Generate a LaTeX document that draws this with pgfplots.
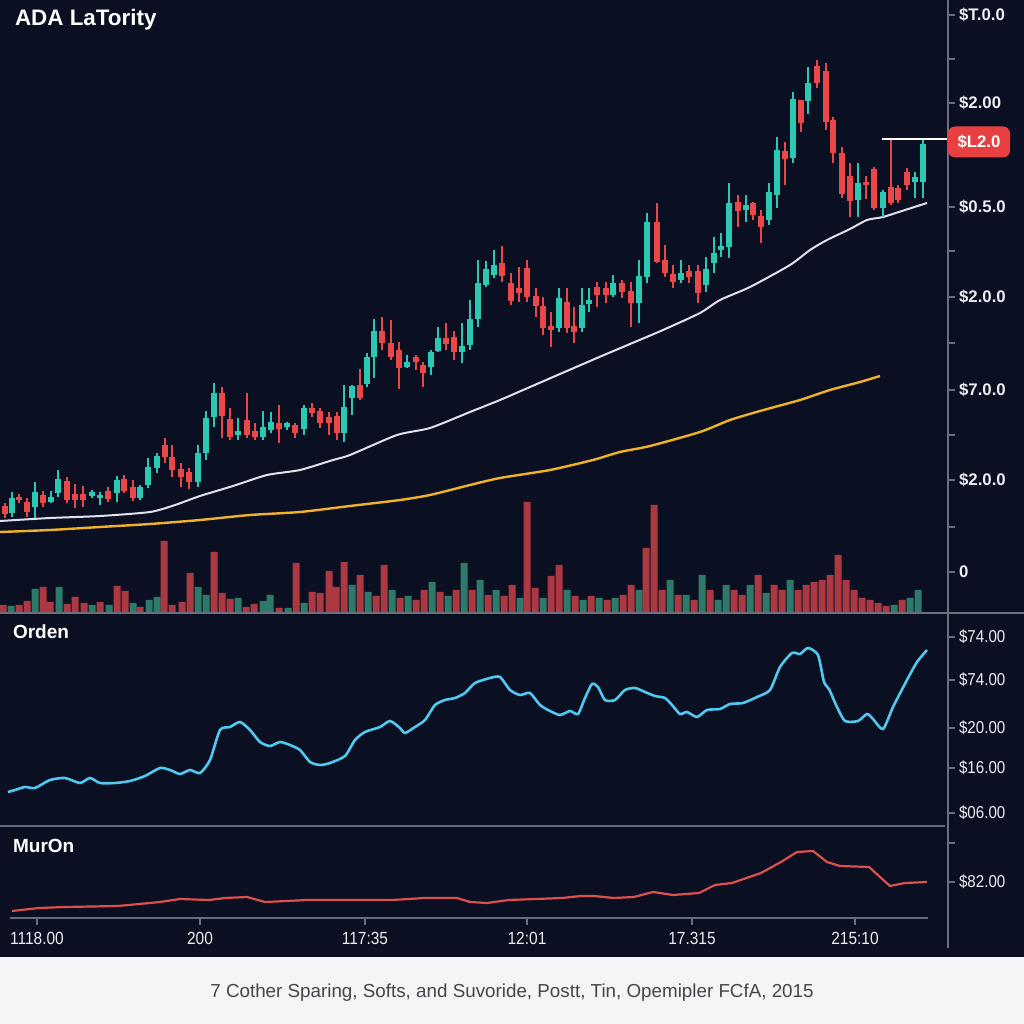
\documentclass[border=0pt]{standalone}
\usepackage{fontspec}
\setmainfont{Liberation Sans}
\newfontfamily\condfont[FakeStretch=0.88]{Liberation Sans}
\usepackage{pgfplots}
\usepackage{pgfplotstable}
\pgfplotsset{compat=1.18}

\definecolor{bgc}{RGB}{10,16,33}
\definecolor{stripc}{RGB}{244,245,247}
\definecolor{capc}{RGB}{66,70,76}
\definecolor{upc}{RGB}{44,201,178}
\definecolor{dnc}{RGB}{234,72,72}
\definecolor{volup}{RGB}{45,122,106}
\definecolor{voldn}{RGB}{172,56,66}
\definecolor{maw}{RGB}{225,225,236}
\definecolor{may}{RGB}{240,178,40}
\definecolor{cyanc}{RGB}{80,200,240}
\definecolor{redl}{RGB}{222,80,80}
\definecolor{axc}{RGB}{105,110,125}
\definecolor{labc}{RGB}{236,238,242}
\definecolor{boxc}{RGB}{232,64,64}

% candles: x, open, high, low, close (screen rows of the price panel)
\pgfplotstableread{
x o h l c
5 506 503 518 514
12 513 492 517 498
19 497 494 503 500
27 502 498 517 512
35 507 482 518 492
43 495 491 507 503
51 502 491 503 497
58 493 470 497 479
67 481 477 503 500
75 494 484 508 500
83 494 486 507 500
92 496 490 498 492
100 498 492 505 495
108 491 487 502 499
117 493 476 502 480
124 479 475 493 491
133 487 480 501 498
140 498 485 500 487
148 485 458 488 467
157 468 453 473 456
165 445 438 463 457
172 457 445 477 470
181 469 463 487 477
189 472 468 489 482
198 482 445 487 453
206 453 411 460 418
214 417 383 427 393
222 393 387 438 416
230 419 408 440 437
238 435 418 440 431
247 420 393 438 435
255 431 423 440 437
263 437 411 440 427
271 430 412 433 422
279 423 405 443 429
287 427 422 430 423
295 425 423 438 433
304 429 405 435 408
312 408 403 417 413
320 411 408 428 423
329 417 412 435 423
337 416 412 440 433
344 433 385 442 407
352 398 385 415 386
360 385 369 400 398
367 384 353 387 357
374 357 319 378 331
382 331 317 350 343
391 343 320 360 357
399 350 342 389 368
407 367 355 368 362
416 357 355 370 362
423 365 362 387 373
431 367 350 375 352
438 351 327 352 338
446 338 323 350 344
454 337 331 360 352
462 352 323 363 346
470 345 300 350 319
478 319 260 327 283
486 285 261 287 269
494 275 250 278 265
502 263 246 282 276
511 283 273 305 301
519 288 267 302 293
527 268 260 302 297
536 296 288 317 306
543 306 297 335 328
551 326 312 347 330
559 328 288 332 298
567 302 288 333 328
574 326 307 343 332
582 328 288 332 305
589 304 288 312 300
597 287 282 307 295
606 288 282 303 295
613 295 275 297 283
622 283 280 298 292
631 291 282 327 303
639 303 260 323 276
647 277 213 283 222
657 222 203 263 262
665 260 245 277 273
673 274 265 288 282
681 280 260 283 273
689 271 265 283 277
698 271 265 303 293
706 285 257 292 269
714 263 237 273 253
721 250 233 257 246
729 247 183 258 203
738 202 195 227 211
746 210 195 222 205
753 203 202 220 215
761 216 210 243 227
769 220 183 225 192
777 195 137 208 150
785 151 142 185 159
793 158 92 163 99
801 100 100 132 123
808 101 67 114 83
817 66 60 88 83
826 71 63 130 122
833 120 117 163 153
842 153 147 198 194
850 176 163 217 201
858 200 163 217 183
866 182 176 199 185
874 169 167 210 208
883 208 190 217 192
891 187 140 205 203
898 188 185 203 200
907 172 168 190 185
915 182 172 198 177
923 182 140 198 144
}\candles

% volume: x, height, up(1)/down(0)
\pgfplotstableread{
x h up
3 7 0
11 6 1
19 7 0
27 11 0
35 23 1
43 25 0
50 10 0
59 25 1
67 8 0
75 15 0
84 9 0
92 7 1
100 10 0
109 7 1
117 26 0
125 21 0
133 9 1
140 5 0
149 12 1
157 15 1
164 71 0
172 7 0
182 10 0
190 39 0
198 25 1
206 17 1
214 60 0
222 19 0
230 13 0
238 14 1
246 5 0
254 8 0
263 11 1
270 17 1
279 4 0
288 4 1
296 49 0
304 9 1
312 20 0
320 19 0
329 41 0
336 25 0
344 50 0
352 27 1
360 37 0
368 20 1
376 16 0
384 47 0
392 22 1
400 14 0
408 16 1
416 12 0
424 22 0
432 30 1
440 20 0
448 16 1
456 22 0
464 49 1
472 22 0
480 32 1
488 17 0
496 22 1
504 16 0
512 27 0
520 14 1
527 110 0
535 24 0
543 14 1
551 36 0
559 47 0
567 22 1
575 16 0
583 12 1
591 16 0
599 14 1
607 12 0
615 14 1
623 17 0
631 27 0
639 22 1
646 64 0
654 107 0
662 22 0
670 32 1
678 17 0
686 17 1
694 12 0
702 37 1
710 22 0
718 12 1
726 27 1
734 22 0
742 17 0
750 27 1
758 37 0
766 19 1
774 27 0
782 22 0
790 32 1
798 22 0
806 27 0
814 30 0
822 32 0
830 37 0
838 57 0
846 32 0
854 22 0
862 14 0
870 12 0
878 9 0
886 6 0
894 7 1
902 12 0
910 14 1
918 22 1
}\vol

\begin{document}
\begin{tikzpicture}[x=1pt,y=1pt]
\useasboundingbox (0pt,0pt) rectangle (512pt,512pt);
\fill[bgc] (0pt,33.5pt) rectangle (512pt,512pt);
\fill[stripc] (0pt,0pt) rectangle (512pt,33.5pt);

% volume
\begin{axis}[at={(0pt,206pt)}, anchor=south west, scale only axis,
  width=474pt, height=306pt, xmin=0, xmax=948, ymin=0, ymax=612,
  hide axis, ybar, bar width=7, bar shift=0pt]
\addplot[fill=volup, draw=none, restrict expr to domain={\thisrow{up}}{0.5:1.5}] table[x=x,y=h]{\vol};
\addplot[fill=voldn, draw=none, restrict expr to domain={\thisrow{up}}{-0.5:0.5}] table[x=x,y=h]{\vol};
\end{axis}

% price panel
\begin{axis}[at={(0pt,206pt)}, anchor=south west, scale only axis,
  width=474pt, height=306pt, xmin=0, xmax=948, ymin=0, ymax=612, y dir=reverse,
  axis line style={draw=none}, xtick=\empty,
  ytick pos=right, yticklabel pos=right,
  ytick={15,103,207,297,390,480,572},
  yticklabels={\$T.0.0,\$2.00,\$0.5.0,\$2.0.0,\$7.0.0,\$2.0.0,0},
  minor ytick={59,152,251,343,435,527},
  tick align=outside, major tick length=3.5pt, minor tick length=3.5pt,
  tick style={draw=axc, line width=0.6pt},
  yticklabel style={font=\bfseries\fontsize{8.4}{10}\selectfont, text=labc, anchor=west, xshift=-1.5pt}]
\addplot[maw, line width=1pt, smooth, tension=0.4] coordinates {(0,521)(50,518)(100,516)(150,512)(175,505)(200,496)(233,486)(267,475)(300,470)(333,460)(350,455)(397,435)(430,428)(470,412)(500,400)(530,387)(560,374)(597,358)(630,344)(663,330)(700,313)(720,300)(750,287)(790,265)(810,250)(827,240)(850,229)(867,220)(883,217)(905,210)(927,203)};
\addplot[may, line width=1.2pt, smooth, tension=0.4] coordinates {(0,532)(50,530)(100,527)(150,524)(200,520)(250,515)(300,512)(350,506)(400,500)(430,495)(470,485)(500,478)(550,470)(593,460)(620,452)(650,446)(700,432)(730,420)(760,411)(800,400)(830,390)(860,382)(880,376)};
% wicks
\addplot[draw=none, mark=none, restrict expr to domain={\thisrow{o}-\thisrow{c}}{0.01:1000},
  error bars/.cd, y dir=both, y explicit, error mark=none, error bar style={draw=upc, solid, line width=0.6pt}]
  table[x=x, y expr={(\thisrow{h}+\thisrow{l})/2}, y error expr={(\thisrow{l}-\thisrow{h})/2}]{\candles};
\addplot[draw=none, mark=none, restrict expr to domain={\thisrow{o}-\thisrow{c}}{-1000:-0.01},
  error bars/.cd, y dir=both, y explicit, error mark=none, error bar style={draw=dnc, solid, line width=0.6pt}]
  table[x=x, y expr={(\thisrow{h}+\thisrow{l})/2}, y error expr={(\thisrow{l}-\thisrow{h})/2}]{\candles};
% bodies
\addplot[draw=none, mark=none, restrict expr to domain={\thisrow{o}-\thisrow{c}}{0.01:1000},
  error bars/.cd, y dir=both, y explicit, error mark=none, error bar style={draw=upc, solid, line width=3.3pt}]
  table[x=x, y expr={(\thisrow{o}+\thisrow{c})/2}, y error expr={abs(\thisrow{o}-\thisrow{c})/2}]{\candles};
\addplot[draw=none, mark=none, restrict expr to domain={\thisrow{o}-\thisrow{c}}{-1000:-0.01},
  error bars/.cd, y dir=both, y explicit, error mark=none, error bar style={draw=dnc, solid, line width=3.3pt}]
  table[x=x, y expr={(\thisrow{o}+\thisrow{c})/2}, y error expr={abs(\thisrow{o}-\thisrow{c})/2}]{\candles};
% last price line
\addplot[white, line width=1.2pt] coordinates {(882,139)(948,139)};
\end{axis}

% oscillator panel
\begin{axis}[at={(0pt,99pt)}, anchor=south west, scale only axis,
  width=474pt, height=106.5pt, xmin=0, xmax=948, ymin=613, ymax=826, y dir=reverse,
  axis line style={draw=none}, xtick=\empty,
  ytick pos=right, yticklabel pos=right,
  ytick={637,680,728,768,813},
  yticklabels={\$74.00,\$74.00,\$20.00,\$16.00,\$06.00},
  tick align=outside, major tick length=3.5pt,
  tick style={draw=axc, line width=0.6pt},
  yticklabel style={font=\condfont\fontsize{8.6}{10}\selectfont, text=labc, anchor=west, xshift=-1.5pt}]
\addplot[cyanc, line width=1.3pt, smooth, tension=0.4] coordinates {(8,792)(15,790)(25,787)(35,788)(50,780)(65,778)(80,783)(90,778)(100,783)(115,783)(130,781)(145,776)(160,768)(170,770)(180,774)(190,770)(200,773)(210,760)(220,730)(230,727)(240,722)(250,730)(260,742)(270,746)(280,742)(290,745)(300,750)(310,762)(320,765)(330,763)(345,756)(355,740)(365,732)(380,727)(390,721)(400,728)(405,733)(415,727)(425,720)(435,705)(445,700)(455,698)(465,693)(475,683)(490,678)(500,677)(510,690)(520,695)(530,693)(540,705)(550,711)(560,715)(570,711)(578,714)(585,698)(592,684)(598,687)(605,700)(615,700)(625,690)(635,688)(645,692)(655,696)(665,698)(672,705)(680,714)(687,712)(697,717)(707,710)(720,709)(730,704)(743,703)(757,697)(770,690)(780,667)(792,653)(800,654)(808,648)(818,655)(824,682)(829,689)(837,707)(845,721)(858,721)(867,714)(873,719)(883,729)(893,707)(907,680)(917,662)(927,650)};
\end{axis}

% lower panel
\begin{axis}[at={(0pt,53pt)}, anchor=south west, scale only axis,
  width=474pt, height=46pt, xmin=0, xmax=948, ymin=826, ymax=918, y dir=reverse,
  axis line style={draw=none},
  ytick pos=right, yticklabel pos=right,
  ytick={882}, yticklabels={\$82.00}, minor ytick={843},
  xtick pos=left, xticklabel pos=left,
  xtick={37,200,365,527,692,855},
  xticklabels={1118.00,200,117:35,12:01,17.315,215:10},
  tick align=outside, major tick length=3.5pt, minor tick length=3.5pt,
  tick style={draw=axc, line width=0.6pt},
  yticklabel style={font=\condfont\fontsize{8.6}{10}\selectfont, text=labc, anchor=west, xshift=-1.5pt},
  xticklabel style={font=\condfont\fontsize{8.8}{10}\selectfont, text=labc, anchor=north}]
\addplot[redl, line width=1.1pt] coordinates {(12,911)(39,908)(65,907)(118,906)(160,902)(180,899)(209,900)(225,898)(247,897)(265,902)(287,901)(307,900)(392,900)(425,898)(457,898)(470,902)(487,903)(509,900)(536,899)(562,898)(581,896)(594,896)(614,898)(634,897)(653,892)(673,895)(699,893)(715,885)(732,883)(761,873)(781,862)(797,852)(813,851)(827,862)(840,866)(869,867)(890,886)(905,883)(927,882)};
\draw[axc, line width=0.6pt] (axis cs:10,918) -- (axis cs:928,918);
\end{axis}

\draw[axc, line width=0.6pt] (0pt,205.5pt) -- (512pt,205.5pt);
\draw[axc, line width=0.6pt] (0pt,99pt) -- (472.5pt,99pt);
\draw[axc, line width=0.6pt] (474pt,512pt) -- (474pt,38pt);

\node[anchor=west, text=white, font=\bfseries\fontsize{11.2}{13}\selectfont] at (4pt,502pt) {ADA LaTority};
\node[anchor=west, text=white, font=\bfseries\fontsize{9.5}{11}\selectfont] at (3pt,196pt) {Orden};
\node[anchor=west, text=white, font=\bfseries\fontsize{9.5}{11}\selectfont] at (3pt,89pt) {MurOn};
\node[fill=boxc, rounded corners=3.5pt, minimum width=31pt, minimum height=15.5pt, inner sep=1pt,
  text=white, font=\bfseries\fontsize{8.4}{10}\selectfont] at (489.5pt,441pt) {\$L2.0};
\node[text=capc, font=\fontsize{9.4}{11}\selectfont] at (256pt,15.5pt) {7 Cother Sparing, Softs, and Suvoride, Postt, Tin, Opemipler FCfA, 2015};
\end{tikzpicture}
\end{document}
